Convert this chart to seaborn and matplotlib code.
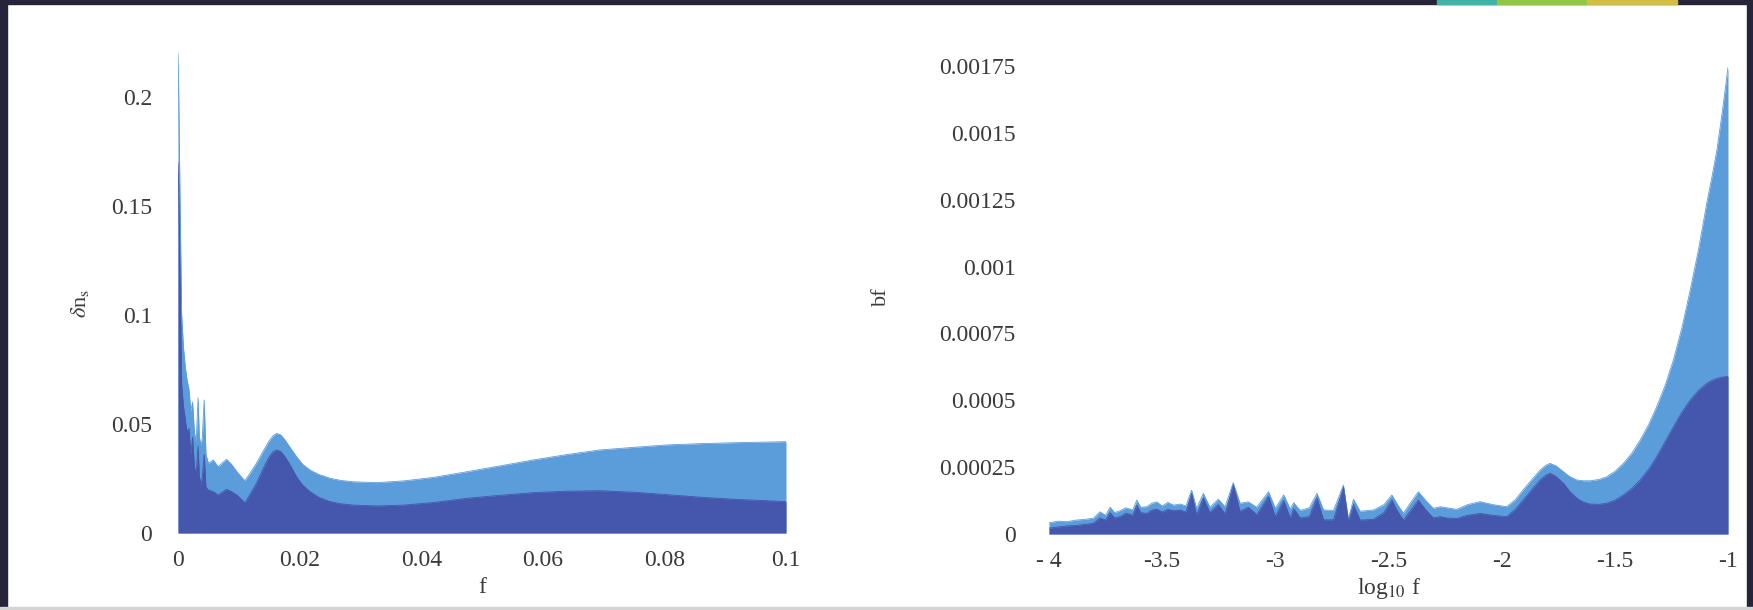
import matplotlib
matplotlib.use("Agg")
import matplotlib.pyplot as plt
from matplotlib.patches import Rectangle
import seaborn as sns

# ---- left panel: delta n_s against f ----
f_lin = [0.0, 0.0001, 0.0003, 0.0006, 0.0009, 0.0012, 0.0015, 0.0018, 0.0021, 0.0024,
         0.0027, 0.0030, 0.0033, 0.0035, 0.0038, 0.0040, 0.0043, 0.0046, 0.0050,
         0.0058, 0.0066, 0.0073, 0.0080, 0.0088, 0.0097, 0.0104, 0.0110, 0.0118,
         0.0129, 0.0140, 0.0149, 0.0156, 0.0162, 0.0169, 0.0176, 0.0185, 0.0195, 0.0205,
         0.0217, 0.0232, 0.0250, 0.0268, 0.0288, 0.0327, 0.0371, 0.0420, 0.0475, 0.0530,
         0.0584, 0.0640, 0.0694, 0.0750, 0.0804, 0.0860, 0.0913, 0.1000]
dns_total = [0.220, 0.205, 0.160, 0.100, 0.085, 0.076, 0.070, 0.066, 0.056, 0.060,
             0.046, 0.042, 0.062, 0.044, 0.040, 0.044, 0.061, 0.036, 0.032,
             0.0335, 0.0304, 0.0322, 0.0338, 0.0315, 0.0281, 0.0258, 0.0240, 0.0272,
             0.0320, 0.0375, 0.0419, 0.0445, 0.0457, 0.0450, 0.0427, 0.0390, 0.0350, 0.0315,
             0.0289, 0.0268, 0.0251, 0.0241, 0.0235, 0.0231, 0.0239, 0.0255, 0.0281, 0.0308,
             0.0335, 0.0360, 0.0381, 0.0393, 0.0404, 0.0410, 0.0414, 0.0419]
dns_part = [0.170, 0.160, 0.125, 0.068, 0.058, 0.052, 0.046, 0.048, 0.036, 0.044,
            0.030, 0.028, 0.040, 0.026, 0.022, 0.026, 0.036, 0.021, 0.0197,
            0.0190, 0.0174, 0.0188, 0.0200, 0.0190, 0.0174, 0.0155, 0.0139, 0.0175,
            0.0228, 0.0295, 0.0345, 0.0372, 0.0381, 0.0374, 0.0350, 0.0310, 0.0258, 0.0220,
            0.0190, 0.0163, 0.0144, 0.0134, 0.0128, 0.0124, 0.0128, 0.0140, 0.0159, 0.0173,
            0.0185, 0.0192, 0.0194, 0.0187, 0.0176, 0.0164, 0.0155, 0.0144]

# ---- right panel: bf against log10 f ----
logf = [-4.000, -3.960, -3.922, -3.880, -3.840, -3.804, -3.775, -3.750, -3.730, -3.710,
        -3.686, -3.660, -3.630, -3.612, -3.595, -3.568, -3.545, -3.524, -3.500, -3.475,
        -3.450, -3.420, -3.395, -3.370, -3.348, -3.318, -3.289, -3.252, -3.222, -3.186,
        -3.156, -3.119, -3.082, -3.030, -3.000, -2.963, -2.934, -2.919, -2.890, -2.850,
        -2.816, -2.787, -2.743, -2.699, -2.677, -2.655, -2.625, -2.566, -2.520, -2.485,
        -2.460, -2.434, -2.400, -2.368, -2.335, -2.302, -2.272, -2.243, -2.199, -2.150,
        -2.096, -2.040, -1.978, -1.940, -1.905, -1.865, -1.830, -1.805, -1.786, -1.760,
        -1.727, -1.700, -1.668, -1.640, -1.609, -1.570, -1.536, -1.500, -1.462, -1.425,
        -1.388, -1.350, -1.315, -1.278, -1.241, -1.204, -1.167, -1.130, -1.094, -1.070,
        -1.049, -1.025, -1.000]
bf_total = [0.000042, 0.000048, 0.000046, 0.000052, 0.000055, 0.000059, 0.000083, 0.000070, 0.000100, 0.000080,
            0.000087, 0.000098, 0.000090, 0.000127, 0.000100, 0.000102, 0.000115, 0.000120, 0.000105, 0.000118,
            0.000108, 0.000112, 0.000105, 0.000164, 0.000096, 0.000152, 0.000100, 0.000130, 0.000102, 0.000192,
            0.000115, 0.000120, 0.000100, 0.000158, 0.000096, 0.000146, 0.000093, 0.000117, 0.000088, 0.000098,
            0.000152, 0.000090, 0.000088, 0.000183, 0.000055, 0.000130, 0.000085, 0.000090, 0.000110, 0.000146,
            0.000110, 0.000078, 0.000120, 0.000158, 0.000125, 0.000096, 0.000102, 0.000098, 0.000092, 0.000110,
            0.000121, 0.000110, 0.000102, 0.000128, 0.000165, 0.000205, 0.000239, 0.000257, 0.000264, 0.000255,
            0.000233, 0.000215, 0.000202, 0.000199, 0.000199, 0.000204, 0.000214, 0.000234, 0.000264, 0.000302,
            0.000351, 0.000410, 0.000476, 0.000555, 0.000651, 0.000770, 0.000912, 0.001065, 0.001237, 0.001340,
            0.001436, 0.001580, 0.001745]
bf_part = [0.000022, 0.000026, 0.000030, 0.000032, 0.000036, 0.000040, 0.000060, 0.000052, 0.000080, 0.000060,
           0.000065, 0.000078, 0.000070, 0.000108, 0.000080, 0.000077, 0.000090, 0.000093, 0.000082, 0.000092,
           0.000087, 0.000090, 0.000082, 0.000152, 0.000070, 0.000135, 0.000080, 0.000110, 0.000075, 0.000183,
           0.000085, 0.000100, 0.000072, 0.000140, 0.000065, 0.000125, 0.000060, 0.000095, 0.000060, 0.000065,
           0.000135, 0.000053, 0.000053, 0.000175, 0.000048, 0.000110, 0.000052, 0.000055, 0.000080, 0.000127,
           0.000085, 0.000052, 0.000090, 0.000127, 0.000090, 0.000060, 0.000065, 0.000060, 0.000058, 0.000070,
           0.000077, 0.000070, 0.000065, 0.000092, 0.000127, 0.000168, 0.000202, 0.000220, 0.000227, 0.000215,
           0.000190, 0.000160, 0.000134, 0.000120, 0.000112, 0.000111, 0.000115, 0.000126, 0.000146, 0.000170,
           0.000202, 0.000243, 0.000289, 0.000345, 0.000401, 0.000455, 0.000501, 0.000537, 0.000563, 0.000575,
           0.000582, 0.000587, 0.000590]

# ---- tick labels ----
left_xticks = [0.0, 0.02, 0.04, 0.06, 0.08, 0.1]
left_xlabels = ["0", "0.02", "0.04", "0.06", "0.08", "0.1"]
left_yticks = [0.0, 0.05, 0.1, 0.15, 0.2]
left_ylabels = ["0", "0.05", "0.1", "0.15", "0.2"]
right_xticks = [-4.0, -3.5, -3.0, -2.5, -2.0, -1.5, -1.0]
right_xlabels = ["- 4", "-3.5", "-3", "-2.5", "-2", "-1.5", "-1"]
right_yticks = [0.0, 0.00025, 0.0005, 0.00075, 0.001, 0.00125, 0.0015, 0.00175]
right_ylabels = ["0", "0.00025", "0.0005", "0.00075", "0.001", "0.00125", "0.0015", "0.00175"]

LIGHT = "#5b9cdb"
DARK = "#4556ad"
TEXT = "#3a3a3a"

sns.set_theme(style="white")
plt.rcParams["font.family"] = ["Liberation Serif", "DejaVu Serif"]
plt.rcParams["mathtext.fontset"] = "stix"

fig = plt.figure(figsize=(17.53, 6.10), dpi=100)
fig.patch.set_facecolor("white")

# dark slide border around the white plotting card
border = "#26243a"
fig.patches.append(Rectangle((0, 1 - 4 / 610), 1, 4 / 610, transform=fig.transFigure,
                             color=border, zorder=-5))
for x0, w, c in ((1437, 60, "#3fb3a6"), (1497, 90, "#8fc646"), (1587, 90, "#d2bd46")):
    fig.patches.append(Rectangle((x0 / 1753, 1 - 4 / 610), w / 1753, 4 / 610,
                                 transform=fig.transFigure, color=c, zorder=-4))
fig.patches.append(Rectangle((0, 0), 7 / 1753, 1, transform=fig.transFigure,
                             color=border, zorder=-5))
fig.patches.append(Rectangle((1 - 6 / 1753, 0), 6 / 1753, 1, transform=fig.transFigure,
                             color=border, zorder=-5))
fig.patches.append(Rectangle((0, 0), 1, 3 / 610, transform=fig.transFigure,
                             color="#d4d4d4", zorder=-5))

ax1 = fig.add_axes([178 / 1753, 77 / 610, 608 / 1753, 488.3 / 610])
ax2 = fig.add_axes([1049 / 1753, 76 / 610, 679 / 1753, 489.3 / 610])


def draw_panel(ax, x, total, part):
    ax.fill_between(x, 0, total, color=LIGHT, linewidth=0)
    ax.fill_between(x, 0, part, color=DARK, linewidth=0)
    sns.lineplot(x=x, y=total, ax=ax, color=LIGHT, linewidth=0.6,
                 estimator=None, sort=False)
    sns.lineplot(x=x, y=part, ax=ax, color=DARK, linewidth=0.6,
                 estimator=None, sort=False)


draw_panel(ax1, f_lin, dns_total, dns_part)
draw_panel(ax2, logf, bf_total, bf_part)

ax1.set_xlim(0, 0.1)
ax1.set_ylim(0, 0.224)
ax2.set_xlim(-4, -1)
ax2.set_ylim(0, 0.00183)

ax1.set_xticks(left_xticks, left_xlabels)
ax1.set_yticks(left_yticks, left_ylabels)
ax2.set_xticks(right_xticks, right_xlabels)
ax2.set_yticks(right_yticks, right_ylabels)

for ax, ypad in ((ax1, 18.5), (ax2, 24.0)):
    for s in ax.spines.values():
        s.set_visible(False)
    ax.set_facecolor("white")
    ax.grid(False)
    ax.tick_params(axis="y", length=0, pad=ypad, labelsize=17, labelcolor=TEXT)
    ax.tick_params(axis="x", length=0, pad=12.5, labelsize=17, labelcolor=TEXT)

ax1.set_xlabel("f", fontsize=17, color=TEXT)
ax1.set_ylabel(r"$\delta$n$_{\mathrm{s}}$", fontsize=16, color=TEXT)
ax2.set_xlabel(r"log$_{10}$ f", fontsize=17, color=TEXT)
ax2.set_ylabel("bf", fontsize=16, color=TEXT)

ax1.xaxis.set_label_coords(0.5, -0.111)
ax2.xaxis.set_label_coords(0.5, -0.112)
ax1.xaxis.label.set_va("center")
ax2.xaxis.label.set_va("center")
ax1.yaxis.set_label_coords(-0.161, 0.471)
ax2.yaxis.set_label_coords(-0.247, 0.484)
ax1.yaxis.label.set_va("center")
ax2.yaxis.label.set_va("center")

fig.savefig("out.png", dpi=100)
